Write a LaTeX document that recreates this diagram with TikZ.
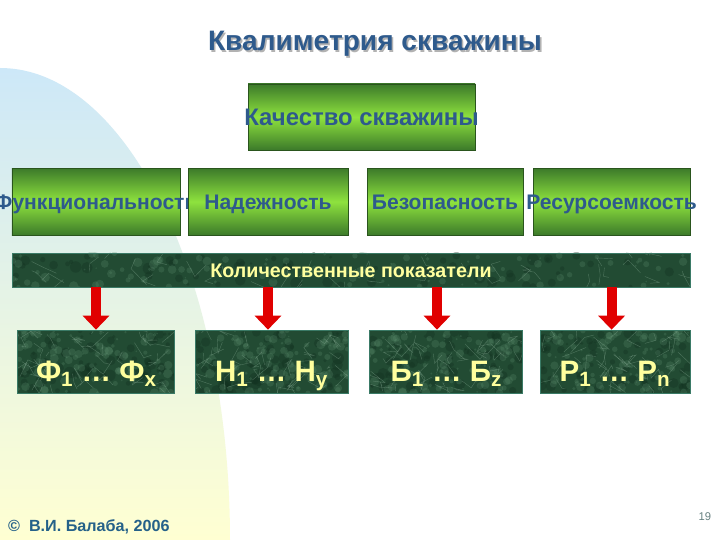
\documentclass[tikz,border=0pt]{standalone}
\usepackage{fontspec}
\setmainfont{Liberation Sans}
\usepackage{tikz}
\usetikzlibrary{calc, positioning, arrows.meta}

\definecolor{titleblue}{HTML}{2E5A8C}
\definecolor{gdark}{HTML}{3C7A2A}
\definecolor{glight}{HTML}{8EE23E}
\definecolor{marbledark}{HTML}{224B33}
\definecolor{marblespot}{HTML}{5E9070}
\definecolor{marbleshade}{HTML}{12301F}
\definecolor{marbleedge}{HTML}{3A7A66}
\definecolor{paleyellow}{HTML}{FFFF9E}
\definecolor{bgblue}{HTML}{CDE8F8}
\definecolor{bgmid}{HTML}{E9F5E4}
\definecolor{bgyellow}{HTML}{FFFFD2}
\definecolor{arrowred}{HTML}{E00000}

\begin{document}
\begin{tikzpicture}[
	greenbox/.style={draw=gdark!70!black, line width=0.4pt,
		top color=gdark, bottom color=gdark, middle color=glight,
		text=titleblue, font=\bfseries\fontsize{15}{18}\selectfont,
		text height=11pt, text depth=0pt,
		minimum height=1.675cm, inner sep=0pt},
	marble/.style={draw=marbleedge, line width=0.6pt, fill=marbledark,
		text=paleyellow, inner sep=0pt,
		path picture={
			\path (path picture bounding box.south west) coordinate (mb1)
				(path picture bounding box.north east) coordinate (mb2);
			\foreach \k in {1,...,70}
				\fill[marbleshade, opacity=0.35] let \p1=(mb1), \p2=(mb2) in
					({\x1+rnd*(\x2-\x1)},{\y1+rnd*(\y2-\y1)}) circle ({0.03+rnd*0.12});
			\foreach \k in {1,...,110}
				\fill[marblespot, opacity=0.25] let \p1=(mb1), \p2=(mb2) in
					({\x1+rnd*(\x2-\x1)},{\y1+rnd*(\y2-\y1)}) circle ({0.02+rnd*0.1});
			\foreach \k in {1,...,45}
				\draw[marblespot!70!white, opacity=0.4, line width=0.3pt] let \p1=(mb1), \p2=(mb2) in
					({\x1+rnd*(\x2-\x1)},{\y1+rnd*(\y2-\y1)}) -- ++({rnd*0.8-0.4},{rnd*0.8-0.4}) -- ++({rnd*0.6-0.3},{rnd*0.6-0.3});
		}},
	measure/.style={marble, minimum height=1.575cm,
		font=\bfseries\fontsize{21}{25}\selectfont,
		text height=30pt, text depth=1pt},
	redarrow/.style={arrowred, line width=0.25cm,
		-{Triangle[width=0.65cm, length=0.35cm]}}
	]

\pgfmathsetseed{11}
\useasboundingbox (0,0) rectangle (18,13.5);
\fill[white] (0,0) rectangle (18,13.5);

% background
\shade[top color=bgblue, middle color=bgmid, bottom color=bgyellow]
	(0,0) -- (0,11.8) arc[start angle=90, end angle=0, x radius=5.75, y radius=11.8] -- cycle;

% title
\node[text=gray!60, font=\bfseries\fontsize{20}{24}\selectfont] at (9.415,12.36) {Квалиметрия скважины};
\node (title) [text=titleblue, font=\bfseries\fontsize{20}{24}\selectfont] at (9.375,12.4) {Квалиметрия скважины};

\node (quality) [greenbox, minimum width=5.675cm, minimum height=1.65cm,
	font=\bfseries\fontsize{17}{20}\selectfont, text height=12.2pt] at (9.04,10.575) {\makebox[0pt]{Качество скважины}};

% properties
\node (func) [greenbox, minimum width=4.2cm] at (2.4,8.46) {\makebox[0pt]{Функциональность}};
\node (rel) [greenbox, minimum width=4cm] at (6.7,8.46) {\makebox[0pt]{Надежность}};
\node (safe) [greenbox, minimum width=3.9cm] at (11.125,8.46) {\makebox[0pt]{Безопасность}};
\node (res) [greenbox, minimum width=3.925cm] at (15.29,8.46) {\makebox[0pt]{Ресурсоемкость}};

\node (band) [marble, minimum width=16.95cm, minimum height=0.85cm,
	font=\bfseries\fontsize{14}{17}\selectfont,
	text height=10pt, text depth=0pt] at (8.775,6.75) {Количественные показатели};

% indicators
\node (fq) [measure, minimum width=3.925cm] at (2.41,4.46) {Ф\textsubscript{1} … Ф\textsubscript{x}};
\node (rq) [measure, minimum width=3.825cm] at (6.79,4.46) {Н\textsubscript{1} … Н\textsubscript{y}};
\node (sq) [measure, minimum width=3.825cm] at (11.16,4.46) {Б\textsubscript{1} … Б\textsubscript{z}};
\node (resq) [measure, minimum width=3.75cm] at (15.375,4.46) {Р\textsubscript{1} … Р\textsubscript{n}};

\draw[redarrow] (func |- band.south) -- (func |- fq.north);
\draw[redarrow] (rel |- band.south) -- (rel |- rq.north);
\draw[redarrow] ($(safe |- band.south)+(-0.2,0)$) -- ($(safe |- sq.north)+(-0.2,0)$);
\draw[redarrow] (res |- band.south) -- (res |- resq.north);

% footer
\node (author) [anchor=west, text=titleblue!80!teal, font=\bfseries\fontsize{11.5}{13}\selectfont] at (0.08,0.33) {©\ \ В.И. Балаба, 2006};
\node (page) [text=gray!80!teal, font=\fontsize{8}{10}\selectfont] at (17.62,0.58) {19};
\end{tikzpicture}
\end{document}
